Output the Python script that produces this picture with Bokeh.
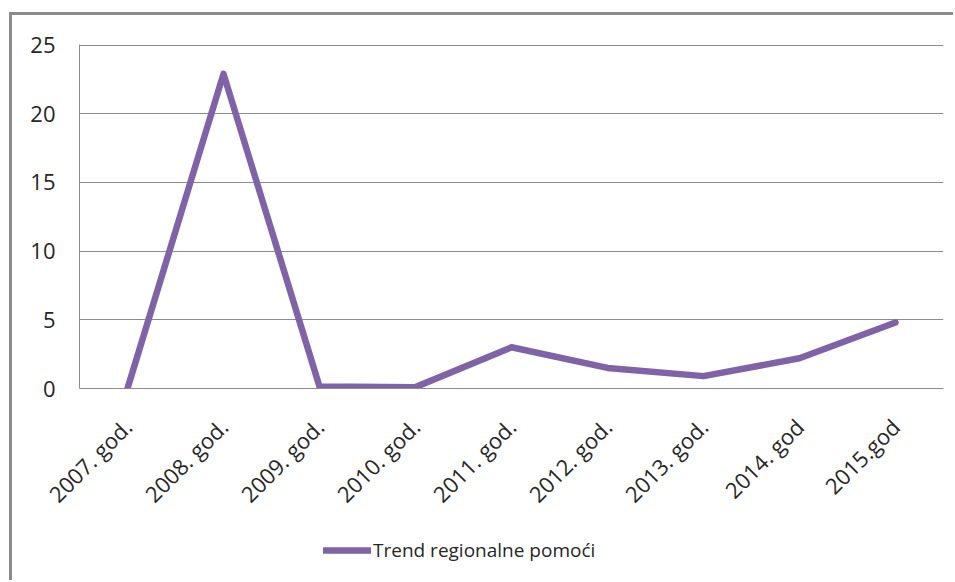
from bokeh.plotting import figure
from bokeh.models import Legend, LegendItem, FixedTicker, Column
from bokeh.embed import file_html
from bokeh.resources import INLINE
import math

categories = ["2007. god.", "2008. god.", "2009. god.", "2010. god.", "2011. god.",
              "2012. god.", "2013. god.", "2014. god", "2015.god"]
values = [0.0, 22.9, 0.15, 0.1, 3.0, 1.5, 0.9, 2.2, 4.8]
series_name = "Trend regionalne pomoći"
y_ticks = [0, 5, 10, 15, 20, 25]

FONT = "Open Sans"
TEXT = "#262626"
GRID = "#8c8c8c"
PURPLE = "#7F62A8"
LINE_W = 6.5

# ---- main chart ----
p = figure(width=941, height=510, x_range=categories, y_range=(0, 25.04),
           output_backend="svg", toolbar_location=None,
           min_border_left=67, min_border_right=10, min_border_top=29, min_border_bottom=137)

r = p.line(x=categories, y=values, line_color=PURPLE, line_width=LINE_W,
           line_join="round", line_cap="round")

p.outline_line_color = None
p.background_fill_color = "white"
p.border_fill_color = "white"

p.xgrid.grid_line_color = None
p.ygrid.grid_line_color = GRID
p.ygrid.grid_line_width = 1

p.yaxis.ticker = FixedTicker(ticks=y_ticks)
p.yaxis.axis_line_color = GRID
p.yaxis.major_tick_line_color = None
p.yaxis.minor_tick_line_color = None
p.yaxis.major_tick_out = 0
p.yaxis.major_tick_in = 0
p.yaxis.major_label_standoff = 24
p.yaxis.major_label_text_font = FONT
p.yaxis.major_label_text_font_size = "22px"
p.yaxis.major_label_text_color = TEXT

p.xaxis.axis_line_color = GRID
p.xaxis.major_tick_line_color = None
p.xaxis.minor_tick_line_color = None
p.xaxis.major_tick_out = 0
p.xaxis.major_tick_in = 0
p.xaxis.major_label_orientation = math.pi / 4
p.xaxis.major_label_standoff = 34
p.xaxis.major_label_text_font = FONT
p.xaxis.major_label_text_font_size = "22px"
p.xaxis.major_label_text_color = TEXT

# ---- legend strip (same series, drawn out of view, only its legend entry shows) ----
pl = figure(width=941, height=55, x_range=categories, y_range=(100, 101),
            output_backend="svg", toolbar_location=None,
            x_axis_type=None, y_axis_type=None,
            min_border_left=0, min_border_right=0, min_border_top=0, min_border_bottom=0)
pl.xgrid.grid_line_color = None
pl.ygrid.grid_line_color = None
pl.outline_line_color = None
pl.background_fill_color = "white"
pl.border_fill_color = "white"
rl = pl.line(x=categories, y=values, line_color=PURPLE, line_width=LINE_W,
             line_join="round", line_cap="round")

legend = Legend(items=[LegendItem(label=series_name, renderers=[rl])],
                location=(244, 17), orientation="horizontal",
                glyph_width=48, glyph_height=24, label_height=24,
                label_standoff=2, padding=0, margin=0, spacing=0,
                border_line_color=None, background_fill_alpha=0,
                label_text_font=FONT, label_text_font_size="19px",
                label_text_color=TEXT)
pl.add_layout(legend, "center")

layout = Column(children=[p, pl], spacing=0, styles={
    "margin-left": "9px", "margin-top": "12px",
    "border-left": "3px solid #8a8a8a", "border-top": "3px solid #8a8a8a",
})

open("out.html", "w").write(file_html(layout, INLINE))
